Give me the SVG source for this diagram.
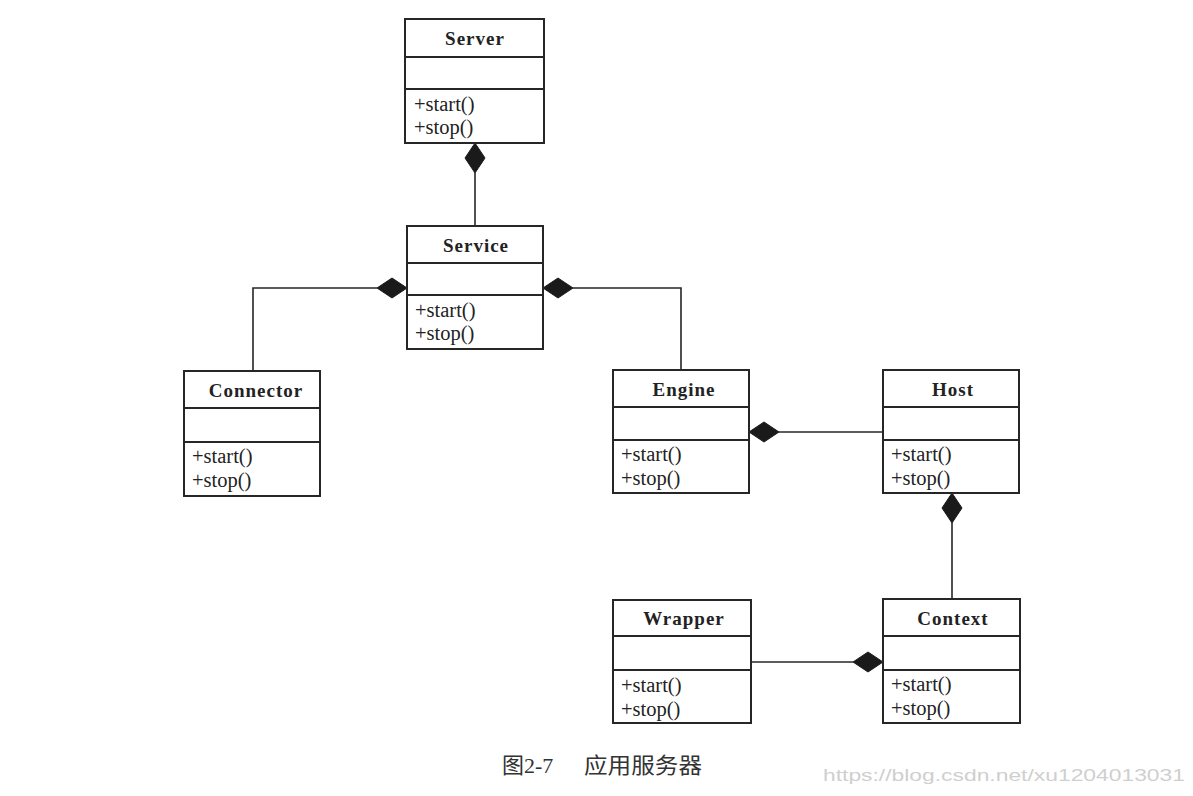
<svg xmlns="http://www.w3.org/2000/svg" width="1193" height="796" viewBox="0 0 1193 796">
<style>
.box{fill:#fff;stroke:#262626;stroke-width:2}
.div{stroke:#262626;stroke-width:2}
.title{font-family:"Liberation Serif","Times New Roman",serif;font-weight:bold;font-size:19px;letter-spacing:1px;fill:#222;text-anchor:middle}
.m{font-family:"Liberation Serif","Times New Roman",serif;font-size:20.5px;fill:#222}
.edge{fill:none;stroke:#262626;stroke-width:1.6}
.dia{fill:#1a1a1a;stroke:#1a1a1a;stroke-width:1}
.cap{font-family:"Liberation Serif","Noto Sans CJK SC",serif;font-size:22px;fill:#333}
.wm{font-family:"Liberation Sans","Arial",sans-serif;font-size:17px;fill:#cfcfcf}
</style>
<rect width="1193" height="796" fill="#fff"/>

<g id="connectors">
  <path class="edge" d="M475 173 V226"/>
  <polygon class="dia" points="475,143 485,158 475,173 465,158"/>
  <path class="edge" d="M377 288 H253 V371"/>
  <polygon class="dia" points="407,288 392,278 377,288 392,298"/>
  <path class="edge" d="M573 288 H681 V370"/>
  <polygon class="dia" points="543,288 558,278 573,288 558,298"/>
  <path class="edge" d="M779 432 H883"/>
  <polygon class="dia" points="749,432 764,422 779,432 764,442"/>
  <path class="edge" d="M952 523 V599"/>
  <polygon class="dia" points="952,493 962,508 952,523 942,508"/>
  <path class="edge" d="M751 662 H853"/>
  <polygon class="dia" points="883,662 868,652 853,662 868,672"/>
</g>

<g id="server">
  <rect class="box" x="405" y="19" width="139" height="124"/>
  <line class="div" x1="405" y1="57" x2="544" y2="57"/>
  <line class="div" x1="405" y1="89" x2="544" y2="89"/>
  <text class="title" x="475" y="45">Server</text>
  <text class="m" x="414" y="111">+start()</text>
  <text class="m" x="414" y="134">+stop()</text>
</g>

<g id="service">
  <rect class="box" x="407" y="226" width="136" height="123"/>
  <line class="div" x1="407" y1="263" x2="543" y2="263"/>
  <line class="div" x1="407" y1="295" x2="543" y2="295"/>
  <text class="title" x="476" y="252">Service</text>
  <text class="m" x="415" y="317">+start()</text>
  <text class="m" x="415" y="340">+stop()</text>
</g>

<g id="connector">
  <rect class="box" x="184" y="371" width="136" height="125"/>
  <line class="div" x1="184" y1="408" x2="320" y2="408"/>
  <line class="div" x1="184" y1="442" x2="320" y2="442"/>
  <text class="title" x="256" y="397">Connector</text>
  <text class="m" x="192" y="463">+start()</text>
  <text class="m" x="192" y="487">+stop()</text>
</g>

<g id="engine">
  <rect class="box" x="613" y="370" width="136" height="123"/>
  <line class="div" x1="613" y1="407" x2="749" y2="407"/>
  <line class="div" x1="613" y1="440" x2="749" y2="440"/>
  <text class="title" x="684" y="396">Engine</text>
  <text class="m" x="621" y="461">+start()</text>
  <text class="m" x="621" y="485">+stop()</text>
</g>

<g id="host">
  <rect class="box" x="883" y="370" width="136" height="123"/>
  <line class="div" x1="883" y1="407" x2="1019" y2="407"/>
  <line class="div" x1="883" y1="440" x2="1019" y2="440"/>
  <text class="title" x="953" y="396">Host</text>
  <text class="m" x="891" y="461">+start()</text>
  <text class="m" x="891" y="485">+stop()</text>
</g>

<g id="wrapper">
  <rect class="box" x="613" y="600" width="138" height="123"/>
  <line class="div" x1="613" y1="636" x2="751" y2="636"/>
  <line class="div" x1="613" y1="670" x2="751" y2="670"/>
  <text class="title" x="684" y="625">Wrapper</text>
  <text class="m" x="621" y="692">+start()</text>
  <text class="m" x="621" y="716">+stop()</text>
</g>

<g id="context">
  <rect class="box" x="883" y="599" width="137" height="124"/>
  <line class="div" x1="883" y1="636" x2="1020" y2="636"/>
  <line class="div" x1="883" y1="670" x2="1020" y2="670"/>
  <text class="title" x="953" y="625">Context</text>
  <text class="m" x="891" y="691">+start()</text>
  <text class="m" x="891" y="715">+stop()</text>
</g>

<g id="caption">
  <text class="cap" x="502" y="773">图2-7</text>
  <text class="cap" x="584" y="773" textLength="118" lengthAdjust="spacingAndGlyphs">应用服务器</text>
</g>
<text class="wm" x="823" y="781" textLength="362" lengthAdjust="spacingAndGlyphs">https://blog.csdn.net/xu1204013031</text>
</svg>
